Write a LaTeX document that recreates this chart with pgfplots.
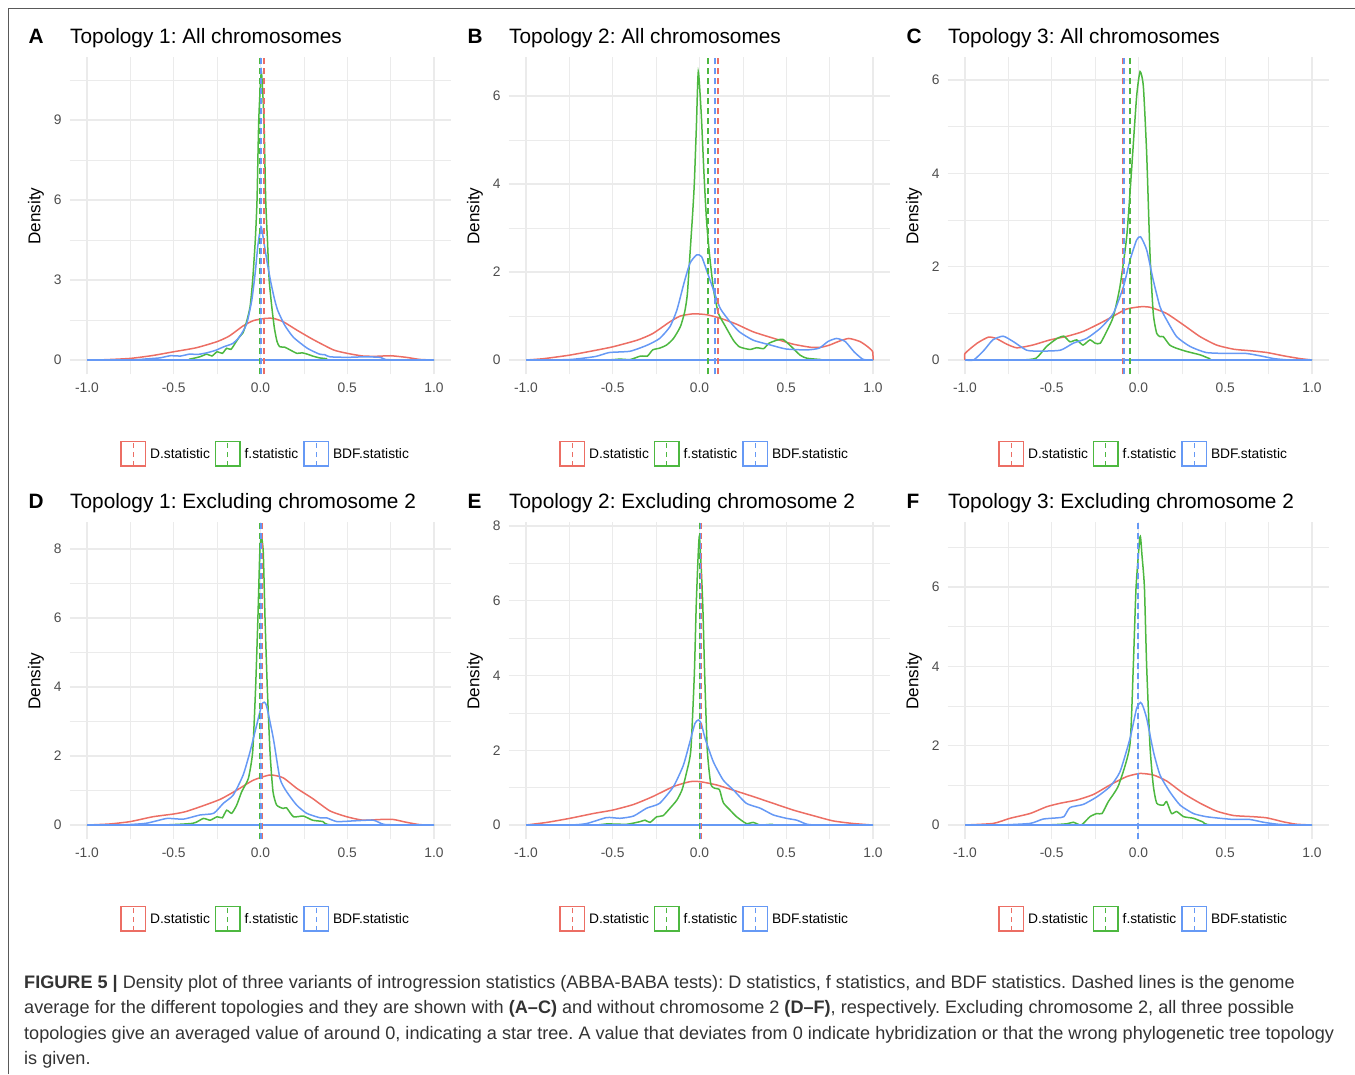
\documentclass[border=0pt]{standalone}
\usepackage{fontspec}
\setmainfont{Liberation Sans}
\usepackage{pgfplots}
\pgfplotsset{compat=1.18}
\frenchspacing
\definecolor{cR}{HTML}{EC6E64}
\definecolor{cG}{HTML}{4DB840}
\definecolor{cB}{HTML}{6699F5}
\definecolor{gridc}{HTML}{EBEBEB}
\definecolor{tickc}{HTML}{4D4D4D}
\definecolor{capc}{HTML}{333333}
\newcommand\tickfont{\fontsize{13.8}{16}\selectfont}
\newcommand\titlefont{\fontsize{20.8}{24}\selectfont}
\newcommand\labfont{\fontsize{17.1}{20}\selectfont}
\newcommand\legfont{\fontsize{13.8}{16}\selectfont}
\newcommand\capfont{\fontsize{18.1}{22}\selectfont}

\pgfplotsset{
  dens/.style={
    scale only axis, width=381.7pt, height=317pt, anchor=south west,
    xmin=-1.1, xmax=1.1,
    xtick={-1,-0.5,0,0.5,1}, xticklabels={-1.0,-0.5,0.0,0.5,1.0},
    minor xtick={-0.75,-0.25,0.25,0.75},
    grid=both,
    major grid style={draw=gridc, line width=1.3pt},
    minor grid style={draw=gridc, line width=0.65pt},
    axis line style={draw=none},
    major tick length=0pt, minor tick length=0pt,
    tick label style={font=\tickfont, text=tickc},
    xticklabel style={inner sep=0pt, yshift=-8.6pt},
    yticklabel style={inner sep=0pt, xshift=-8pt},
    legend columns=3, legend cell align=left,
    legend style={at={(0.511,-0.2505)}, anchor=center, draw=none, fill=none,
      font=\legfont, inner sep=0pt, nodes={inner sep=0pt},
      /tikz/every odd column/.style={column sep=4pt},
      /tikz/every even column/.style={column sep=5pt}},
    legend image code/.code={
      \draw[##1, solid, line width=1.3pt] (0pt,-12.2pt) rectangle (24.4pt,12.2pt);
      \draw[##1, line width=1.3pt, dash pattern=on 5pt off 4pt] (12.2pt,-12.2pt) -- (12.2pt,12.2pt);},
  },
  curve/.style={line width=1.5pt, smooth, tension=0.35, forget plot},
  vdash/.style={line width=1.8pt, dash pattern=on 6pt off 4pt},
}

% letter, title and y label of a panel; #1,#2 offsets in pt
\newcommand\panelhead[4]{%
  \begin{scope}[shift={(#1pt,-#2pt)}]
    \node[anchor=base west, inner sep=0pt, font=\titlefont\bfseries] at (28.3pt,-43.3pt) {#3};
    \node[anchor=base west, inner sep=0pt, font=\titlefont] at (70pt,-43.3pt) {#4};
    \node[rotate=90, inner sep=0pt, font=\labfont] at (36pt,-216pt) {Density};
  \end{scope}}

\begin{document}
\begin{tikzpicture}
\useasboundingbox (0pt,0pt) rectangle (1355pt,-1074pt);
\draw[black!65, line width=1pt] (8pt,-1074pt) -- (8pt,-8pt) -- (1355pt,-8pt);

% ---------- A ----------
\begin{axis}[dens, at={(69.65pt,-374.4pt)}, ymin=-0.54, ymax=11.35,
  ytick={0,3,6,9}, yticklabels={0,3,6,9}, minor ytick={1.5,4.5,7.5,10.5}]
\addplot[cR, curve] coordinates {(-1,0) (-0.9,0.01) (-0.75,0.06) (-0.62,0.17) (-0.5,0.31) (-0.37,0.46) (-0.25,0.69) (-0.18,0.9) (-0.1,1.28) (-0.04,1.48) (0.026,1.56) (0.074,1.56) (0.13,1.44) (0.21,1.12) (0.3,0.78) (0.42,0.38) (0.5,0.25) (0.59,0.15) (0.67,0.14) (0.75,0.16) (0.84,0.1) (0.92,0.02) (1,0)};
\addplot[cG, curve] coordinates {(-1,0) (-0.45,0) (-0.41,0.03) (-0.35,0.12) (-0.31,0.22) (-0.28,0.15) (-0.25,0.31) (-0.22,0.25) (-0.195,0.44) (-0.17,0.4) (-0.14,0.69) (-0.12,0.88) (-0.1,1.03) (-0.08,1.44) (-0.06,2.0) (-0.045,3.0) (-0.03,4.5) (-0.02,6) (-0.01,9) (0.005,10.8) (0.02,9) (0.03,6) (0.04,4.5) (0.05,3) (0.065,2.0) (0.08,1.2) (0.095,0.7) (0.11,0.5) (0.14,0.48) (0.17,0.38) (0.21,0.25) (0.24,0.27) (0.27,0.22) (0.3,0.15) (0.34,0.08) (0.38,0.05) (0.42,0) (1,0)};
\addplot[cB, curve] coordinates {(-1,0) (-0.75,0) (-0.66,0.04) (-0.58,0.08) (-0.52,0.16) (-0.46,0.15) (-0.41,0.22) (-0.36,0.21) (-0.31,0.27) (-0.26,0.36) (-0.21,0.5) (-0.16,0.62) (-0.12,0.88) (-0.08,1.35) (-0.05,2.25) (-0.03,3.3) (-0.015,4.3) (0.003,5.0) (0.02,4.4) (0.04,3.6) (0.06,2.9) (0.08,2.3) (0.1,1.85) (0.14,1.3) (0.19,0.85) (0.27,0.44) (0.34,0.22) (0.37,0.2) (0.4,0.12) (0.5,0.1) (0.6,0.12) (0.69,0.1) (0.72,0.02) (0.8,0) (1,0)};
\addplot[cB, line width=1.5pt, forget plot] coordinates {(-1,0) (1,0)};
\addplot[cR, vdash] coordinates {(0.018,-0.54) (0.018,11.35)};
\addlegendentry{D.statistic}
\addplot[cG, vdash] coordinates {(-0.003,-0.54) (-0.003,11.35)};
\addlegendentry{f.statistic}
\addplot[cB, vdash] coordinates {(0.001,-0.54) (0.001,11.35)};
\addlegendentry{BDF.statistic}
\end{axis}

% ---------- B ----------
\begin{axis}[dens, at={(508.65pt,-374.4pt)}, ymin=-0.327, ymax=6.877,
  ytick={0,2,4,6}, yticklabels={0,2,4,6}, minor ytick={1,3,5}]
\addplot[cR, curve] coordinates {(-1,0) (-0.9,0.03) (-0.75,0.11) (-0.6,0.22) (-0.5,0.3) (-0.36,0.45) (-0.27,0.6) (-0.17,0.87) (-0.11,1.0) (-0.035,1.05) (0.04,1.03) (0.12,0.95) (0.21,0.82) (0.31,0.64) (0.43,0.49) (0.54,0.36) (0.64,0.29) (0.7,0.29) (0.75,0.34) (0.8,0.42) (0.86,0.49) (0.925,0.42) (0.97,0.3) (0.998,0.19) (1,0)};
\addplot[cG, curve] coordinates {(-1,0) (-0.55,0) (-0.46,0.02) (-0.4,0.01) (-0.34,0.09) (-0.3,0.09) (-0.27,0.23) (-0.23,0.27) (-0.19,0.34) (-0.15,0.49) (-0.11,0.76) (-0.085,1.1) (-0.07,1.5) (-0.055,2.4) (-0.04,3.3) (-0.03,4) (-0.018,5.3) (-0.007,6.55) (0.01,5.6) (0.025,4.3) (0.04,3.2) (0.055,2.5) (0.07,1.95) (0.085,1.5) (0.11,1.05) (0.15,0.76) (0.195,0.45) (0.23,0.3) (0.29,0.24) (0.33,0.28) (0.37,0.26) (0.4,0.38) (0.445,0.45) (0.48,0.47) (0.52,0.34) (0.58,0.11) (0.62,0.04) (0.7,0.01) (0.72,0) (1,0)};
\addplot[cB, curve] coordinates {(-1,0) (-0.75,0.01) (-0.6,0.08) (-0.52,0.17) (-0.4,0.2) (-0.3,0.34) (-0.23,0.49) (-0.17,0.76) (-0.13,1.14) (-0.09,1.74) (-0.055,2.2) (-0.016,2.39) (0.012,2.35) (0.04,2.05) (0.08,1.6) (0.12,1.17) (0.176,0.87) (0.23,0.64) (0.31,0.45) (0.41,0.34) (0.5,0.25) (0.62,0.23) (0.69,0.27) (0.74,0.42) (0.79,0.49) (0.84,0.42) (0.89,0.19) (0.94,0.02) (0.98,0) (1,0)};
\addplot[cB, line width=1.5pt, forget plot] coordinates {(-1,0) (1,0)};
\addplot[cR, vdash] coordinates {(0.105,-0.327) (0.105,6.877)};
\addlegendentry{D.statistic}
\addplot[cG, vdash] coordinates {(0.047,-0.327) (0.047,6.877)};
\addlegendentry{f.statistic}
\addplot[cB, vdash] coordinates {(0.091,-0.327) (0.091,6.877)};
\addlegendentry{BDF.statistic}
\end{axis}

% ---------- C ----------
\begin{axis}[dens, at={(947.65pt,-374.4pt)}, ymin=-0.309, ymax=6.484,
  ytick={0,2,4,6}, yticklabels={0,2,4,6}, minor ytick={1,3,5}]
\addplot[cR, curve] coordinates {(-1,0) (-1,0.14) (-0.93,0.36) (-0.865,0.49) (-0.82,0.46) (-0.76,0.34) (-0.7,0.26) (-0.61,0.32) (-0.51,0.43) (-0.41,0.51) (-0.32,0.61) (-0.22,0.79) (-0.145,0.94) (-0.07,1.09) (0.009,1.14) (0.066,1.13) (0.16,1.0) (0.26,0.75) (0.355,0.5) (0.45,0.32) (0.55,0.23) (0.64,0.2) (0.74,0.16) (0.835,0.09) (0.93,0.03) (1,0)};
\addplot[cG, curve] coordinates {(-1,0) (-0.68,0) (-0.59,0.04) (-0.53,0.29) (-0.47,0.46) (-0.43,0.51) (-0.395,0.39) (-0.356,0.43) (-0.32,0.32) (-0.28,0.43) (-0.25,0.36) (-0.22,0.36) (-0.18,0.64) (-0.145,0.93) (-0.107,1.57) (-0.068,2.64) (-0.04,4.07) (-0.011,5.64) (0.009,6.18) (0.028,5.86) (0.047,4.43) (0.066,2.29) (0.085,1.0) (0.105,0.57) (0.125,0.5) (0.143,0.5) (0.18,0.32) (0.22,0.25) (0.28,0.18) (0.355,0.11) (0.41,0.03) (0.45,0) (1,0)};
\addplot[cB, curve] coordinates {(-1,0) (-0.95,0) (-0.89,0.21) (-0.84,0.43) (-0.78,0.51) (-0.72,0.39) (-0.645,0.21) (-0.57,0.19) (-0.45,0.21) (-0.376,0.36) (-0.3,0.46) (-0.22,0.68) (-0.145,1.0) (-0.087,1.57) (-0.049,2.14) (-0.011,2.57) (0.012,2.64) (0.047,2.36) (0.085,1.71) (0.124,1.14) (0.162,0.86) (0.22,0.5) (0.297,0.29) (0.39,0.16) (0.51,0.14) (0.62,0.14) (0.7,0.09) (0.78,0.03) (0.87,0) (1,0)};
\addplot[cB, line width=1.5pt, forget plot] coordinates {(-1,0) (1,0)};
\addplot[cR, vdash] coordinates {(-0.091,-0.309) (-0.091,6.484)};
\addlegendentry{D.statistic}
\addplot[cG, vdash] coordinates {(-0.047,-0.309) (-0.047,6.484)};
\addlegendentry{f.statistic}
\addplot[cB, vdash] coordinates {(-0.083,-0.309) (-0.083,6.484)};
\addlegendentry{BDF.statistic}
\end{axis}

% ---------- D ----------
\begin{axis}[dens, at={(69.65pt,-839.4pt)}, ymin=-0.417, ymax=8.771,
  ytick={0,2,4,6,8}, yticklabels={0,2,4,6,8}, minor ytick={1,3,5,7}]
\addplot[cR, curve] coordinates {(-1,0) (-0.87,0.03) (-0.75,0.1) (-0.62,0.24) (-0.5,0.32) (-0.43,0.39) (-0.33,0.56) (-0.23,0.75) (-0.137,1.01) (-0.041,1.3) (0.055,1.45) (0.13,1.37) (0.21,1.06) (0.3,0.77) (0.4,0.41) (0.497,0.24) (0.59,0.14) (0.69,0.16) (0.766,0.16) (0.84,0.08) (0.92,0.01) (1,0)};
\addplot[cG, curve] coordinates {(-1,0) (-0.58,0) (-0.39,0.05) (-0.33,0.19) (-0.29,0.14) (-0.25,0.24) (-0.22,0.21) (-0.195,0.43) (-0.166,0.34) (-0.137,0.58) (-0.108,0.97) (-0.07,1.35) (-0.045,2.13) (-0.028,4.0) (-0.015,6.0) (-0.004,7.9) (0.005,8.36) (0.016,7.9) (0.026,6.0) (0.039,4.0) (0.055,2.1) (0.072,0.97) (0.093,0.58) (0.13,0.48) (0.15,0.5) (0.19,0.24) (0.247,0.26) (0.3,0.14) (0.36,0.1) (0.42,0) (1,0)};
\addplot[cB, curve] coordinates {(-1,0) (-0.81,0) (-0.66,0.05) (-0.54,0.19) (-0.445,0.17) (-0.35,0.29) (-0.27,0.34) (-0.214,0.63) (-0.157,0.87) (-0.1,1.45) (-0.06,2.13) (-0.022,2.9) (0.007,3.48) (0.022,3.56) (0.036,3.43) (0.074,2.51) (0.112,1.35) (0.15,0.97) (0.208,0.58) (0.266,0.34) (0.343,0.21) (0.38,0.21) (0.44,0.1) (0.535,0.12) (0.65,0.14) (0.71,0.02) (0.82,0) (1,0)};
\addplot[cB, line width=1.5pt, forget plot] coordinates {(-1,0) (1,0)};
\addplot[cR, vdash] coordinates {(0.012,-0.417) (0.012,8.771)};
\addlegendentry{D.statistic}
\addplot[cG, vdash] coordinates {(-0.003,-0.417) (-0.003,8.771)};
\addlegendentry{f.statistic}
\addplot[cB, vdash] coordinates {(0.005,-0.417) (0.005,8.771)};
\addlegendentry{BDF.statistic}
\end{axis}

% ---------- E ----------
\begin{axis}[dens, at={(508.65pt,-839.4pt)}, ymin=-0.385, ymax=8.096,
  ytick={0,2,4,6,8}, yticklabels={0,2,4,6,8}, minor ytick={1,3,5,7}]
\addplot[cR, curve] coordinates {(-1,0) (-0.88,0.07) (-0.746,0.18) (-0.61,0.31) (-0.5,0.4) (-0.38,0.55) (-0.27,0.76) (-0.15,1.03) (-0.055,1.16) (0.003,1.16) (0.1,1.07) (0.21,0.91) (0.31,0.76) (0.425,0.58) (0.54,0.4) (0.656,0.25) (0.77,0.11) (0.887,0.04) (1,0)};
\addplot[cG, curve] coordinates {(-1,0) (-0.61,0) (-0.535,0.03) (-0.42,0.02) (-0.343,0.09) (-0.314,0.13) (-0.285,0.07) (-0.247,0.22) (-0.21,0.25) (-0.17,0.45) (-0.13,0.67) (-0.1,0.95) (-0.075,1.4) (-0.05,2.0) (-0.03,4.0) (-0.018,6.0) (-0.001,7.72) (0.018,6.0) (0.03,4.0) (0.045,2.0) (0.065,1.1) (0.09,0.98) (0.115,0.95) (0.137,0.6) (0.176,0.4) (0.214,0.22) (0.27,0.04) (0.31,0.07) (0.35,0) (0.42,0.02) (0.45,0) (1,0)};
\addplot[cB, curve] coordinates {(-1,0) (-0.746,0) (-0.65,0.04) (-0.535,0.2) (-0.458,0.18) (-0.38,0.24) (-0.305,0.45) (-0.23,0.58) (-0.15,1.03) (-0.093,1.6) (-0.055,2.23) (-0.026,2.72) (-0.007,2.81) (0.01,2.72) (0.032,2.32) (0.08,1.69) (0.137,1.2) (0.195,0.94) (0.27,0.58) (0.35,0.45) (0.425,0.27) (0.5,0.18) (0.56,0.13) (0.62,0.02) (0.69,0) (1,0)};
\addplot[cB, line width=1.5pt, forget plot] coordinates {(-1,0) (1,0)};
\addplot[cR, vdash] coordinates {(0.008,-0.385) (0.008,8.096)};
\addlegendentry{D.statistic}
\addplot[cG, vdash] coordinates {(0.004,-0.385) (0.004,8.096)};
\addlegendentry{f.statistic}
\addplot[cB, vdash] coordinates {(0.006,-0.385) (0.006,8.096)};
\addlegendentry{BDF.statistic}
\end{axis}

% ---------- F ----------
\begin{axis}[dens, at={(947.65pt,-839.4pt)}, ymin=-0.363, ymax=7.628,
  ytick={0,2,4,6}, yticklabels={0,2,4,6}, minor ytick={1,3,5,7}]
\addplot[cR, curve] coordinates {(-1,0) (-0.837,0.04) (-0.74,0.17) (-0.625,0.29) (-0.53,0.46) (-0.45,0.55) (-0.356,0.63) (-0.26,0.77) (-0.164,1.01) (-0.068,1.22) (0.009,1.3) (0.086,1.26) (0.162,1.11) (0.258,0.8) (0.355,0.55) (0.45,0.35) (0.547,0.24) (0.66,0.21) (0.74,0.18) (0.835,0.08) (0.91,0.02) (1,0)};
\addplot[cG, curve] coordinates {(-1,0) (-0.55,0) (-0.414,0.03) (-0.376,0.07) (-0.33,0) (-0.28,0.21) (-0.24,0.29) (-0.21,0.29) (-0.174,0.59) (-0.115,1.0) (-0.05,2.0) (-0.03,4.0) (-0.014,6.0) (0.009,7.27) (0.02,6.8) (0.034,6.0) (0.047,4.0) (0.066,2.0) (0.085,1.0) (0.105,0.55) (0.143,0.5) (0.162,0.59) (0.19,0.29) (0.22,0.34) (0.26,0.21) (0.316,0.17) (0.37,0.08) (0.43,0) (1,0)};
\addplot[cB, curve] coordinates {(-1,0) (-0.8,0) (-0.625,0.04) (-0.55,0.15) (-0.47,0.18) (-0.43,0.21) (-0.395,0.44) (-0.318,0.52) (-0.24,0.71) (-0.164,0.97) (-0.107,1.34) (-0.049,2.18) (-0.011,2.94) (0.012,3.09) (0.025,3.0) (0.047,2.69) (0.086,1.85) (0.124,1.26) (0.18,0.84) (0.24,0.5) (0.316,0.29) (0.39,0.21) (0.47,0.17) (0.547,0.14) (0.64,0.14) (0.72,0.07) (0.8,0.02) (0.89,0) (1,0)};
\addplot[cB, line width=1.5pt, forget plot] coordinates {(-1,0) (1,0)};
\addplot[cR, vdash] coordinates {(-0.004,-0.363) (-0.004,7.628)};
\addlegendentry{D.statistic}
\addplot[cG, vdash] coordinates {(-0.003,-0.363) (-0.003,7.628)};
\addlegendentry{f.statistic}
\addplot[cB, vdash] coordinates {(-0.002,-0.363) (-0.002,7.628)};
\addlegendentry{BDF.statistic}
\end{axis}

\panelhead{0}{0}{A}{Topology 1: All chromosomes}
\panelhead{439}{0}{B}{Topology 2: All chromosomes}
\panelhead{878}{0}{C}{Topology 3: All chromosomes}
\panelhead{0}{465}{D}{Topology 1: Excluding chromosome 2}
\panelhead{439}{465}{E}{Topology 2: Excluding chromosome 2}
\panelhead{878}{465}{F}{Topology 3: Excluding chromosome 2}

% caption
\begin{scope}[every node/.style={anchor=base west, inner sep=0pt, font=\capfont, text=capc}]
\node at (24pt,-988pt) {\textbf{FIGURE 5 |} Density plot of three variants of introgression statistics (ABBA-BABA tests): D statistics, f statistics, and BDF statistics. Dashed lines is the genome};
\node at (24pt,-1013.5pt) {average for the different topologies and they are shown with \textbf{(A–C)} and without chromosome 2 \textbf{(D–F)}, respectively. Excluding chromosome 2, all three possible};
\node at (24pt,-1039pt) {topologies give an averaged value of around 0, indicating a star tree. A value that deviates from 0 indicate hybridization or that the wrong phylogenetic tree topology};
\node at (24pt,-1064pt) {is given.};
\end{scope}
\end{tikzpicture}
\end{document}
